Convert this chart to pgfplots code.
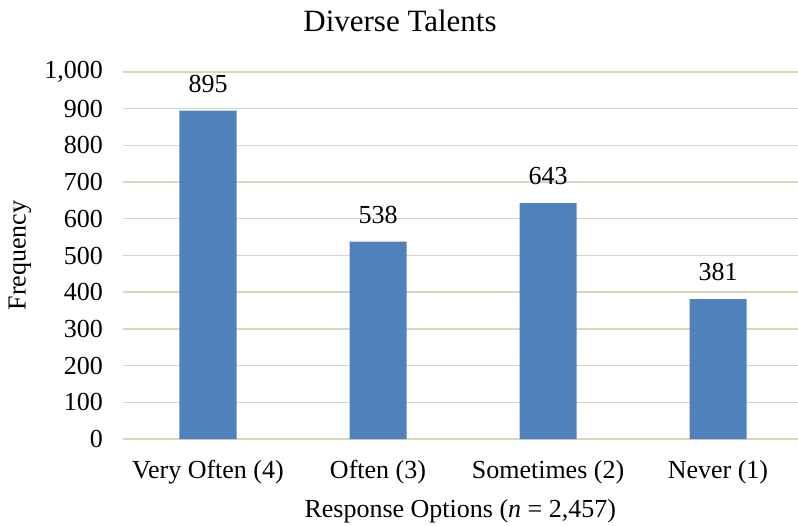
\documentclass[border=0pt]{standalone}
\usepackage{pgfplots}
\pgfplotsset{compat=1.18}
\usepackage{fontspec}
\setmainfont{Liberation Serif}
\definecolor{barblue}{RGB}{79,129,189}
\definecolor{gridc}{RGB}{217,213,191}
\newcommand{\bigf}{\fontsize{26bp}{30bp}\rmfamily\selectfont}
\begin{document}
\begin{tikzpicture}
\begin{axis}[
  at={(0,0)}, anchor=south west,
  scale only axis,
  width=680bp, height=367bp,
  xmin=-0.5, xmax=3.5,
  ymin=0, ymax=1000,
  ytick={0,100,...,1000},
  xtick={0,1,2,3},
  xticklabels={Very Often (4),Often (3),Sometimes (2),Never (1)},
  /pgf/number format/1000 sep={,},
  /pgf/number format/assume math mode=true,
  ymajorgrids,
  grid style={gridc, line width=1.4bp},
  axis line style={draw=none},
  axis x line*=bottom,
  x axis line style={gridc, line width=1.4bp},
  major tick length=0pt,
  tick style={draw=none},
  ticklabel style={font=\bigf, inner sep=0pt},
  yticklabel style={anchor=east, xshift=-20bp},
  xticklabel style={anchor=base, yshift=-39bp},
  xlabel={Response Options (\textit{n} = 2,457)},
  xlabel style={font=\bigf, inner sep=0pt, anchor=base, at={([yshift=-78bp]axis description cs:0.496,0)}},
  ylabel={Frequency},
  ylabel style={font=\bigf, inner sep=0pt, anchor=center, rotate=0, at={([xshift=-103bp]axis description cs:0,0.5)}},
  nodes near coords,
  nodes near coords style={font=\bigf, /pgf/number format/assume math mode=true, inner sep=0pt, anchor=south, yshift=18bp},
  clip=false,
]
\addplot[ybar, bar width=57bp, fill=barblue, draw=none] coordinates {(0,895) (1,538) (2,643) (3,381)};
\end{axis}
\node[anchor=base, inner sep=0pt, font=\fontsize{31bp}{36bp}\rmfamily\selectfont] at (277bp,407bp) {Diverse Talents};
\pgfresetboundingbox
\path[use as bounding box] (-123bp,-87bp) rectangle (675bp,439bp);
\end{tikzpicture}
\end{document}
